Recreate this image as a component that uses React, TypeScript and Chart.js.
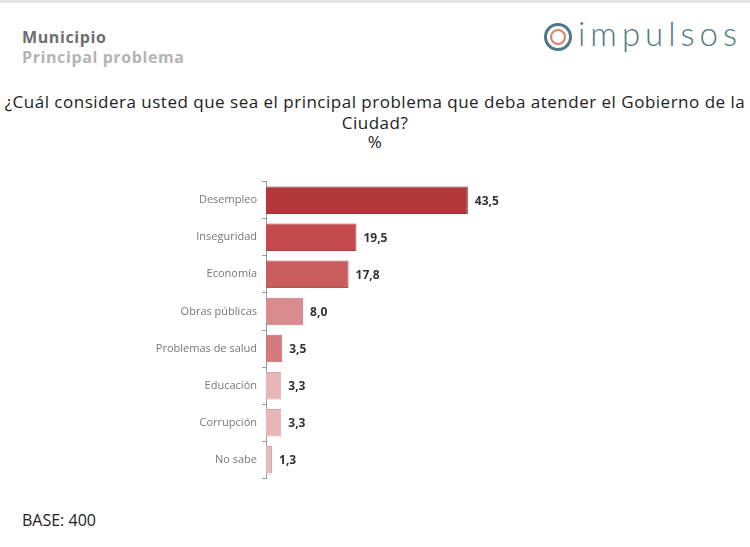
import React, { useEffect, useRef } from "react";
import { Chart, registerables } from "chart.js";

Chart.register(...registerables);

const categories = [
  "Desempleo",
  "Inseguridad",
  "Economía",
  "Obras públicas",
  "Problemas de salud",
  "Educación",
  "Corrupción",
  "No sabe",
];
const values = [43.5, 19.5, 17.8, 8.0, 3.5, 3.3, 3.3, 1.3];
const barColors = [
  "#b2383b",
  "#c54a4d",
  "#c95d5e",
  "#d98b8d",
  "#d47a7c",
  "#e9b6b8",
  "#e9b6b8",
  "#e4bcc0",
];
const borderColors = [
  "#9c3033",
  "#b04043",
  "#b45253",
  "#c77c7e",
  "#c06c6e",
  "#d8a4a6",
  "#d8a4a6",
  "#d2aaae",
];

const valueLabels = {
  id: "valueLabels",
  afterDatasetsDraw(chart: any) {
    const ctx = chart.ctx;
    const meta = chart.getDatasetMeta(0);
    ctx.save();
    ctx.font = "bold 12px 'Open Sans', sans-serif";
    ctx.fillStyle = "#333333";
    ctx.textBaseline = "middle";
    ctx.textAlign = "left";
    meta.data.forEach((bar: any, i: number) => {
      const v = values[i].toFixed(1).replace(".", ",");
      ctx.fillText(v, bar.x + 7, bar.y + 1);
    });
    ctx.restore();
  },
};

export default function App() {
  const ref = useRef<HTMLCanvasElement>(null);

  useEffect(() => {
    if (!ref.current) return;
    const chart = new Chart(ref.current, {
      type: "bar",
      data: {
        labels: categories,
        datasets: [
          {
            data: values,
            backgroundColor: barColors,
            borderColor: borderColors,
            borderWidth: 1,
            borderSkipped: "left",
            categoryPercentage: 0.74,
            barPercentage: 1,
          },
        ],
      },
      options: {
        indexAxis: "y",
        animation: false,
        responsive: false,
        maintainAspectRatio: false,
        layout: { padding: { top: 8, bottom: 8, left: 0, right: 252 } },
        plugins: {
          legend: { display: false },
          tooltip: { enabled: false },
        },
        scales: {
          x: {
            display: false,
            min: 0,
            max: 50,
          },
          y: {
            afterFit(scale: any) {
              scale.width = 266;
            },
            border: { display: true, color: "#9a9a9a", width: 1 },
            grid: {
              display: true,
              drawOnChartArea: false,
              drawTicks: true,
              tickLength: 4,
              color: "#9a9a9a",
              offset: true,
            },
            ticks: {
              color: "#777777",
              padding: 5,
              font: { size: 11, family: "'Open Sans', sans-serif" },
            },
          },
        },
      },
      plugins: [valueLabels],
    });
    return () => chart.destroy();
  }, []);

  const font = "'Open Sans', 'DejaVu Sans', sans-serif";

  return (
    <div
      style={{
        position: "fixed",
        left: 0,
        top: 0,
        width: 750,
        height: 547,
        background: "#ffffff",
        overflow: "hidden",
        fontFamily: font,
      }}
    >
      <div style={{ position: "absolute", left: 0, top: 0, width: 750, height: 3, background: "#e4e4e4" }} />
      <div
        style={{
          position: "absolute",
          left: 22,
          top: 27,
          fontSize: 16,
          fontWeight: 700,
          color: "#6e6e6e",
          lineHeight: "21px",
          letterSpacing: 0.6,
        }}
      >
        Municipio
      </div>
      <div
        style={{
          position: "absolute",
          left: 22,
          top: 47,
          fontSize: 16,
          fontWeight: 700,
          color: "#b4b4b4",
          lineHeight: "21px",
          letterSpacing: 0.6,
        }}
      >
        Principal problema
      </div>
      {/* logo */}
      <div
        style={{
          position: "absolute",
          left: 544,
          top: 23,
          width: 22,
          height: 22,
          borderRadius: "50%",
          border: "3px solid #4d7884",
        }}
      >
        <div
          style={{
            position: "absolute",
            left: 3,
            top: 3,
            width: 12,
            height: 12,
            borderRadius: "50%",
            border: "2px solid #e0806a",
          }}
        />
      </div>
      <div
        style={{
          position: "absolute",
          left: 578,
          top: 13,
          fontSize: 33,
          fontWeight: 300,
          color: "#4d7884",
          letterSpacing: 5,
          lineHeight: "40px",
          fontFamily: "Lato, 'Open Sans', sans-serif",
        }}
      >
        impulsos
      </div>
      <div
        style={{
          position: "absolute",
          left: 0,
          top: 92,
          width: 750,
          textAlign: "center",
          fontSize: 17,
          color: "#222222",
          lineHeight: "20px",
          letterSpacing: 0.5,
        }}
      >
        <div style={{ whiteSpace: "nowrap", marginLeft: -5, marginRight: -5 }}>
          ¿Cuál considera usted que sea el principal problema que deba atender el Gobierno de la
        </div>
        <div style={{ marginTop: 1 }}>Ciudad?</div>
        <div style={{ marginTop: -1 }}>%</div>
      </div>
      <canvas
        ref={ref}
        width={750}
        height={320}
        style={{ position: "absolute", left: 0, top: 170, width: 750, height: 320 }}
      />
      <div
        style={{
          position: "absolute",
          left: 22,
          top: 510,
          fontSize: 16,
          color: "#222222",
          lineHeight: "21px",
        }}
      >
        BASE: 400
      </div>
    </div>
  );
}
